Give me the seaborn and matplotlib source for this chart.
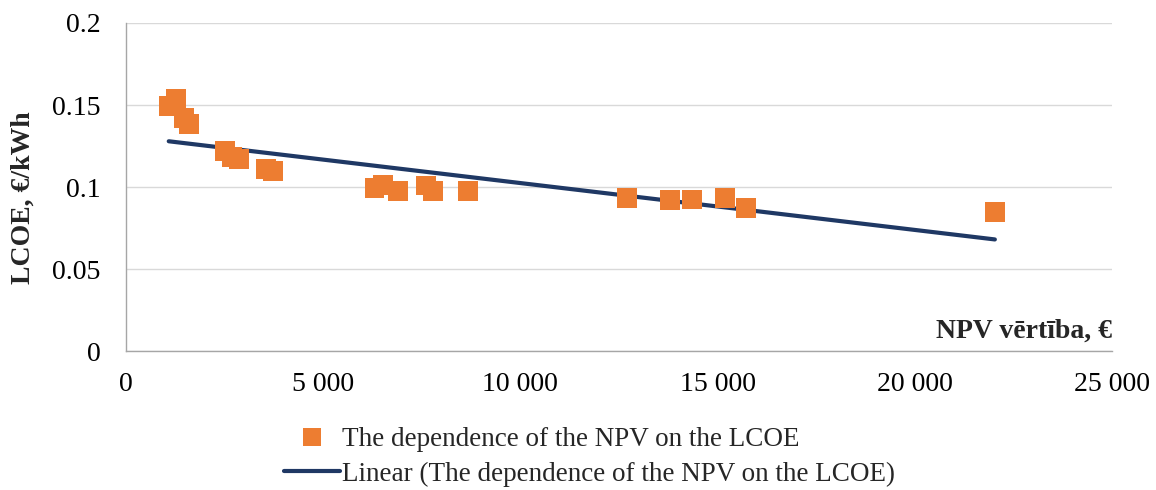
import matplotlib
matplotlib.use("Agg")
import matplotlib.pyplot as plt
import matplotlib.ticker as mticker
from matplotlib.lines import Line2D
import seaborn as sns
import pandas as pd

# ---- data ----
npv = [1084, 1264, 1464, 1599, 2513, 2683, 2868, 3553, 3723,
       6302, 6523, 6891, 7614, 7779, 8673,
       12698, 13787, 14340, 15178, 15728, 22030]
lcoe = [0.1496, 0.1534, 0.1421, 0.1382, 0.1220, 0.1185, 0.1171, 0.1112, 0.1098,
        0.0992, 0.1010, 0.0977, 0.1009, 0.0974, 0.0977,
        0.0931, 0.0921, 0.0924, 0.0931, 0.0870, 0.0848]
x_ticks = [0, 5000, 10000, 15000, 20000, 25000]
y_ticks = [0, 0.05, 0.1, 0.15, 0.2]
series_label = "The dependence of the NPV on the LCOE"
trend_label = "Linear (The dependence of the NPV on the LCOE)"
x_label = "NPV vērtība, €"
y_label = "LCOE, €/kWh"

ORANGE = "#ED7D31"
NAVY = "#1F3864"

sns.set_style("white")
plt.rcParams["font.family"] = ["Liberation Serif", "DejaVu Serif"]

df = pd.DataFrame({"npv": npv, "lcoe": lcoe})

W, H = 1156, 490
fig = plt.figure(figsize=(W / 100, H / 100), dpi=100)
ax = fig.add_axes([126 / W, 1 - 351 / H, (1112 - 126) / W, (351 - 23) / H])

sns.regplot(data=df, x="npv", y="lcoe", scatter=False, ci=None, truncate=True,
            ax=ax, line_kws=dict(color=NAVY, lw=3.0, solid_capstyle="round", zorder=2))
sns.scatterplot(data=df, x="npv", y="lcoe", ax=ax, marker="s", s=205,
                color=ORANGE, edgecolor="none", linewidth=0, zorder=3, legend=False)

ax.set_xlim(0, 25000)
ax.set_ylim(0, 0.2)
ax.set_xticks(x_ticks)
ax.set_yticks(y_ticks)
ax.xaxis.set_major_formatter(mticker.FuncFormatter(lambda v, p: f"{int(round(v)):,}".replace(",", " ")))
ax.yaxis.set_major_formatter(mticker.FuncFormatter(lambda v, p: f"{v:g}"))
ax.grid(axis="y", color="#d9d9d9", lw=1.0)
ax.grid(axis="x", visible=False)
ax.set_axisbelow(True)

for s in ["top", "right"]:
    ax.spines[s].set_visible(False)
for s in ["left", "bottom"]:
    ax.spines[s].set_color("#a6a6a6")
    ax.spines[s].set_linewidth(1.0)
ax.tick_params(axis="both", direction="out", length=5.8, width=1.0, color="#a6a6a6",
               labelsize=20, labelcolor="black")
ax.tick_params(axis="x", pad=9)
ax.tick_params(axis="y", pad=12.5)

ax.set_xlabel("")
ax.set_ylabel("")
fig.text(23 / W, 1 - 198 / H, y_label, rotation=90, ha="center", va="center",
         fontsize=20, fontweight="bold")
ax.text(1.0, (351 - 338) / 328, x_label, transform=ax.transAxes, ha="right",
        va="baseline", fontsize=20, fontweight="bold")

handles = [
    Line2D([], [], ls="none", marker="s", markersize=12.5, color=ORANGE, markeredgewidth=0),
    Line2D([], [], color=NAVY, lw=3.0, solid_capstyle="round"),
]
fig.legend(handles, [series_label, trend_label], loc="upper left",
           bbox_to_anchor=(284 / W, 1 - 427 / H), frameon=False, fontsize=19.5,
           handlelength=2.05, handletextpad=0.1, labelspacing=0.36, borderpad=0,
           borderaxespad=0)

fig.savefig("out.png", dpi=100)
